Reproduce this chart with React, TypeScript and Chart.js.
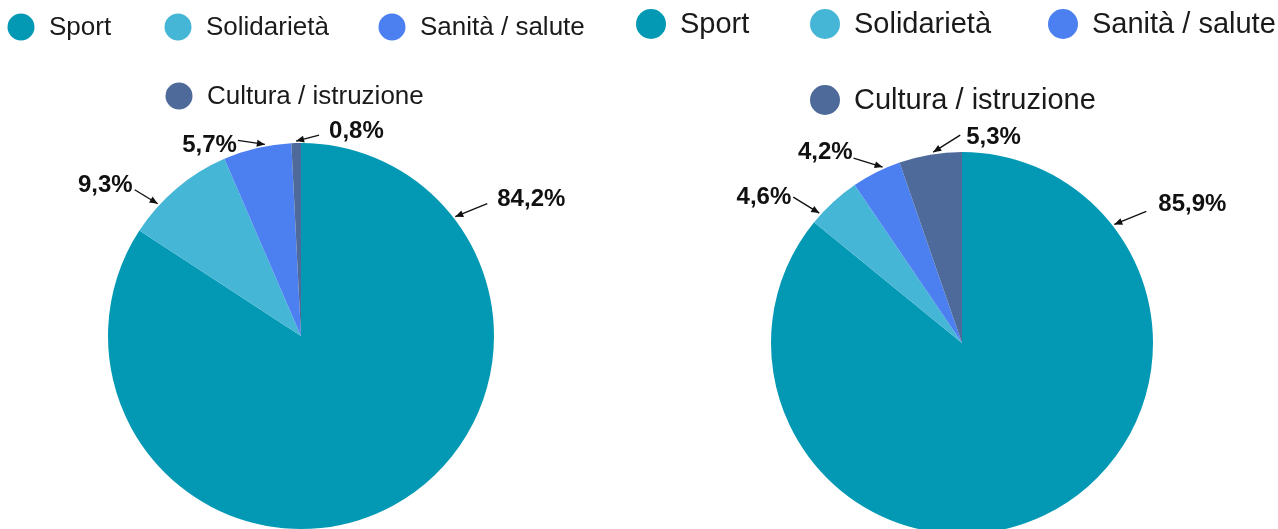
import React, { useEffect, useRef } from "react";
import { Chart, registerables } from "chart.js";

Chart.register(...registerables);

// ---- data ----
const categories = ["Sport", "Solidarietà", "Sanità / salute", "Cultura / istruzione"];
const leftValues = [84.2, 9.3, 5.7, 0.8];
const rightValues = [85.9, 4.6, 4.2, 5.3];
const sliceColors = ["#0399B4", "#46B6D6", "#4C80F1", "#4D6A9A"];

const fmt = (v: number) => v.toFixed(1).replace(".", ",") + "%";

// ---- layout / style (not data) ----
type Callout = { t: number; arrow: [number, number]; text: [number, number]; align: CanvasTextAlign };

const leftCallouts: Callout[] = [
  { t: 0.1725, arrow: [32, -13], text: [42, -18], align: "left" },
  { t: 0.286, arrow: [-23, -14], text: [-25, -19], align: "right" },
  { t: 0.62, arrow: [-27, -4], text: [-28, 0], align: "right" },
  { t: 0.5, arrow: [23, -6], text: [33, -11], align: "left" },
];
const rightCallouts: Callout[] = [
  { t: 0.1685, arrow: [32, -13], text: [44, -21], align: "left" },
  { t: 0.185, arrow: [-26, -16], text: [-28, -17], align: "right" },
  { t: 0.655, arrow: [-29, -9], text: [-30, -16], align: "right" },
  { t: 0.55, arrow: [27, -17], text: [33, -16], align: "left" },
];

const leftLegendPos: [number, number][] = [[21, 27], [178, 27], [392, 27], [179, 96]];
const rightLegendPos: [number, number][] = [[651, 24], [825, 24], [1063, 24], [825, 100]];

function makeLegendPlugin(pos: [number, number][], offsetX: number, fontSize: number, dotR: number, gap: number) {
  return {
    id: "dotLegend",
    afterDraw(chart: any) {
      const ctx = chart.ctx;
      const labels = chart.data.labels as string[];
      const bg = chart.data.datasets[0].backgroundColor as string[];
      ctx.save();
      ctx.font = `${fontSize}px "Liberation Sans", Arial, sans-serif`;
      ctx.textBaseline = "middle";
      ctx.textAlign = "left";
      labels.forEach((lab, i) => {
        const [cx, cy] = pos[i];
        const x = cx - offsetX;
        ctx.fillStyle = bg[i];
        ctx.beginPath();
        ctx.arc(x, cy, dotR, 0, Math.PI * 2);
        ctx.fill();
        ctx.fillStyle = "#1a1a1a";
        ctx.fillText(lab, x + gap, cy + 1);
      });
      ctx.restore();
    },
  };
}

function makeCalloutPlugin(callouts: Callout[]) {
  return {
    id: "callouts",
    afterDatasetsDraw(chart: any) {
      const ctx = chart.ctx;
      const meta = chart.getDatasetMeta(0);
      const values = chart.data.datasets[0].data as number[];
      ctx.save();
      meta.data.forEach((arc: any, i: number) => {
        const c = callouts[i];
        if (!c) return;
        const p = arc.getProps(["x", "y", "startAngle", "endAngle", "outerRadius"], true);
        const a = p.startAngle + c.t * (p.endAngle - p.startAngle);
        const r = p.outerRadius + 2;
        const tx = p.x + Math.cos(a) * r;
        const ty = p.y + Math.sin(a) * r;
        const sx = tx + c.arrow[0];
        const sy = ty + c.arrow[1];
        ctx.strokeStyle = "#111";
        ctx.lineWidth = 1.4;
        ctx.beginPath();
        ctx.moveTo(sx, sy);
        ctx.lineTo(tx, ty);
        ctx.stroke();
        const ang = Math.atan2(ty - sy, tx - sx);
        const L = 8, W = 3.5;
        ctx.fillStyle = "#111";
        ctx.beginPath();
        ctx.moveTo(tx, ty);
        ctx.lineTo(tx - L * Math.cos(ang) + W * Math.sin(ang), ty - L * Math.sin(ang) - W * Math.cos(ang));
        ctx.lineTo(tx - L * Math.cos(ang) - W * Math.sin(ang), ty - L * Math.sin(ang) + W * Math.cos(ang));
        ctx.closePath();
        ctx.fill();
        ctx.font = `bold 24px "Liberation Sans", Arial, sans-serif`;
        ctx.textAlign = c.align;
        ctx.textBaseline = "middle";
        ctx.fillStyle = "#111";
        ctx.fillText(fmt(values[i]), tx + c.text[0], ty + c.text[1] + 1);
      });
      ctx.restore();
    },
  };
}

type PieProps = {
  left: number;
  width: number;
  height: number;
  values: number[];
  padding: { left: number; right: number; top: number; bottom: number };
  legendPos: [number, number][];
  legendFont: number;
  dotR: number;
  gap: number;
  callouts: Callout[];
};

function PieCanvas(props: PieProps) {
  const ref = useRef<HTMLCanvasElement | null>(null);
  useEffect(() => {
    if (!ref.current) return;
    const chart = new Chart(ref.current, {
      type: "pie",
      data: {
        labels: categories,
        datasets: [
          {
            data: props.values,
            backgroundColor: sliceColors,
            borderWidth: 0,
            hoverOffset: 0,
          },
        ],
      },
      options: {
        responsive: false,
        animation: false,
        devicePixelRatio: 1,
        events: [],
        layout: { padding: props.padding },
        plugins: {
          legend: { display: false },
          tooltip: { enabled: false },
        },
      },
      plugins: [
        makeLegendPlugin(props.legendPos, props.left, props.legendFont, props.dotR, props.gap),
        makeCalloutPlugin(props.callouts),
      ],
    } as any);
    return () => chart.destroy();
  }, []);
  return (
    <div style={{ position: "absolute", left: props.left, top: 0, width: props.width, height: props.height }}>
      <canvas ref={ref} width={props.width} height={props.height} style={{ display: "block" }} />
    </div>
  );
}

export default function App() {
  const H = 560;
  const split = 610;
  return (
    <div
      style={{
        position: "fixed",
        left: 0,
        top: 0,
        width: 1278,
        height: 529,
        overflow: "hidden",
        background: "#ffffff",
      }}
    >
      <PieCanvas
        left={0}
        width={split}
        height={H}
        values={leftValues}
        padding={{ left: 108, right: split - 494, top: 143, bottom: H - 529 }}
        legendPos={leftLegendPos}
        legendFont={26}
        dotR={13.5}
        gap={28}
        callouts={leftCallouts}
      />
      <PieCanvas
        left={split}
        width={1278 - split}
        height={H}
        values={rightValues}
        padding={{ left: 771 - split, right: 1278 - 1153, top: 152, bottom: H - 534 }}
        legendPos={rightLegendPos}
        legendFont={29}
        dotR={15}
        gap={29}
        callouts={rightCallouts}
      />
    </div>
  );
}
